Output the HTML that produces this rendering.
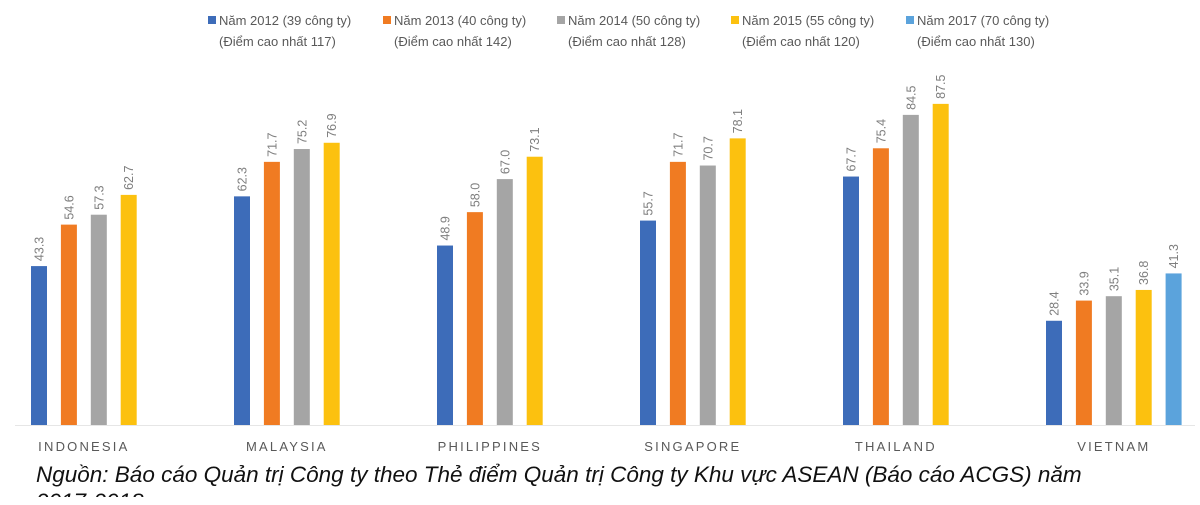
<!DOCTYPE html>
<html><head><meta charset="utf-8"><style>
body{margin:0;background:#fff;width:1200px;height:505px;overflow:hidden;font-family:"Liberation Sans",sans-serif}
#foot{position:absolute;left:36px;top:461px;width:1080px;height:36px;overflow:hidden;font-style:italic;font-size:22.5px;line-height:27px;color:#111}
</style></head><body>
<svg id="chart" width="1200" height="505" style="position:absolute;left:0;top:0"></svg>
<div id="foot">Nguồn: Báo cáo Quản trị Công ty theo Thẻ điểm Quản trị Công ty Khu vực ASEAN (Báo cáo ACGS) năm 2017-2018</div>
<script>
const categories=["INDONESIA","MALAYSIA","PHILIPPINES","SINGAPORE","THAILAND","VIETNAM"];
const seriesNames=["Năm 2012 (39 công ty)","Năm 2013 (40 công ty)","Năm 2014 (50 công ty)","Năm 2015 (55 công ty)","Năm 2017 (70 công ty)"];
const seriesSub=["(Điểm cao nhất 117)","(Điểm cao nhất 142)","(Điểm cao nhất 128)","(Điểm cao nhất 120)","(Điểm cao nhất 130)"];
const s2012=[43.3,62.3,48.9,55.7,67.7,28.4];
const s2013=[54.6,71.7,58.0,71.7,75.4,33.9];
const s2014=[57.3,75.2,67.0,70.7,84.5,35.1];
const s2015=[62.7,76.9,73.1,78.1,87.5,36.8];
const s2017=[null,null,null,null,null,41.3];
const series=[s2012,s2013,s2014,s2015,s2017];
const colors=["#3d6cb9","#f07b22","#a5a5a5","#fcc10f","#5ba3dc"];
const svg=document.getElementById('chart');const NS="http://www.w3.org/2000/svg";
function mk(t,a,p){const e=document.createElementNS(NS,t);for(const k in a)e.setAttribute(k,a[k]);(p||svg).appendChild(e);return e;}
const base=425,scale=3.67;
const y=v=>base-v*scale;
const gx=i=>31+i*203;
const bx=(i,s)=>gx(i)+s*29.9;
const bw=16;
const ax=mk('line',{x1:15,x2:1195,y1:base+0.5,y2:base+0.5,stroke:'#e6e6e6'});

categories.forEach((c,i)=>{
  const n=series.filter(s=>s[i]!=null).length;
  const cx=gx(i)+((n-1)*29.9+bw)/2;
  const t=mk('text',{x:cx,y:451,'text-anchor':'middle','font-size':13,fill:'#595959','letter-spacing':'2.2'});
  t.textContent=c;
  
  series.forEach((s,k)=>{
    if(s[i]==null)return;
    const r=mk('rect',{x:bx(i,k),y:y(s[i]),width:bw,height:s[i]*scale,fill:colors[k]});
    
    const lx=bx(i,k)+bw/2+4.5,ly=y(s[i])-5;
    const l=mk('text',{x:lx,y:ly,transform:`rotate(-90 ${lx} ${ly})`,'font-size':12.5,fill:'#7f7f7f'});
    l.textContent=s[i].toFixed(1);
    
  });
});
const lxs=[208,383,557,731,906];
seriesNames.forEach((n,k)=>{
  const g=mk('g',{});
  
  mk('rect',{x:lxs[k],y:16,width:8,height:8,fill:colors[k]},g);
  const t=mk('text',{x:lxs[k]+11,y:25,'font-size':13,fill:'#595959'},g);t.textContent=n;
  const t2=mk('text',{x:lxs[k]+11,y:46,'font-size':13,fill:'#595959'},g);t2.textContent=seriesSub[k];
});
</script>
</body></html>
